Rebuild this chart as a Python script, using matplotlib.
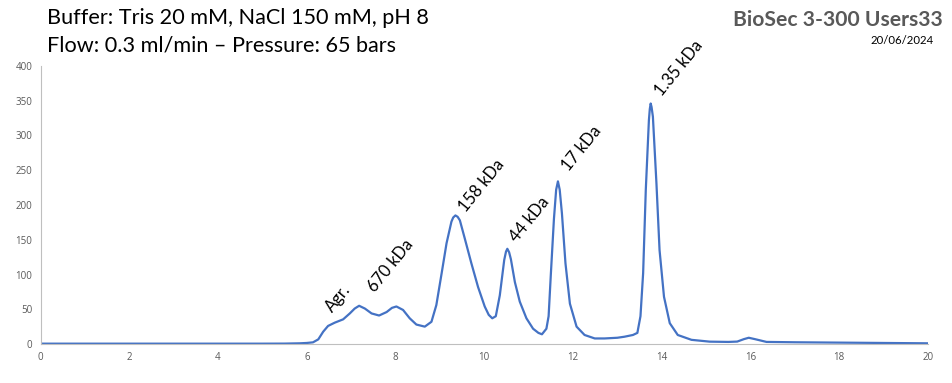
import matplotlib.pyplot as plt

# Chromatogram (elution volume in ml, absorbance)
volume = [0, 1, 2, 3, 4, 5, 5.5, 5.84, 6.0, 6.14, 6.26, 6.37, 6.48, 6.63, 6.82,
          6.97, 7.08, 7.18, 7.31, 7.46, 7.63, 7.80, 7.92, 8.02, 8.17, 8.32, 8.47,
          8.66, 8.81, 8.92, 9.04, 9.15, 9.26, 9.30, 9.35, 9.40, 9.45, 9.56, 9.71,
          9.86, 10.01, 10.10, 10.18, 10.26, 10.35, 10.45, 10.49, 10.52, 10.56,
          10.60, 10.69, 10.80, 10.95, 11.10, 11.22, 11.30, 11.40, 11.45, 11.50,
          11.57, 11.62, 11.66, 11.70, 11.75, 11.83, 11.93, 12.08, 12.26, 12.49,
          12.71, 13.0, 13.16, 13.35, 13.45, 13.52, 13.58, 13.64, 13.71, 13.73,
          13.75, 13.77, 13.80, 13.88, 13.95, 14.05, 14.18, 14.36, 14.67, 15.08,
          15.5, 15.7, 15.85, 15.96, 16.1, 16.36, 17, 18, 19, 20]
signal = [0.5, 0.5, 0.5, 0.5, 0.5, 0.5, 0.6, 1, 1.5, 2.4, 6.7, 17.7, 26, 30.7, 35.5,
          44, 51, 55, 51, 44, 41, 46, 52, 54, 49, 37, 28,
          25, 32, 56, 102, 145, 176, 182, 185, 183, 178, 152, 116,
          82, 54, 42, 37, 40, 70, 121, 133, 137, 132,
          122, 89, 61, 37, 22, 16, 14, 22, 40, 100,
          180, 222, 234, 222, 188, 116, 58, 25, 13, 8,
          8, 9, 10.5, 13, 16, 40, 102, 222, 322, 338,
          346, 341, 327, 231, 135, 68, 30, 13, 6, 3.4,
          3, 3.5, 7, 9, 7, 3, 2.5, 2, 1.5, 1]

# peak labels: text, x, y of text start
labels = ['Agr.', '670 kDa', '158 kDa', '44 kDa', '17 kDa', '1.35 kDa']
label_x = [6.58, 7.53, 9.59, 10.74, 11.91, 14.0]
label_y = [44, 74, 189, 146, 247, 356]

grey = '#595959'

fig = plt.figure(figsize=(9.53, 3.83), dpi=100)
ax = fig.add_axes([0.0425, 0.1018, 0.9313, 0.7259])
ax.plot(volume, signal, color='#4472C4', lw=1.6)

ax.set_xlim(0, 20)
ax.set_ylim(0, 400)
ax.set_xticks(range(0, 21, 2))
ax.set_yticks(range(0, 401, 50))
ax.tick_params(length=0, labelsize=7, colors=grey, pad=6)
for lab in ax.get_xticklabels() + ax.get_yticklabels():
    lab.set_family('Open Sans')
for s in ['top', 'right']:
    ax.spines[s].set_visible(False)
ax.spines['left'].set_color('#BFBFBF')
ax.spines['bottom'].set_color('#BFBFBF')
ax.spines['left'].set_linewidth(0.8)
ax.spines['bottom'].set_linewidth(0.8)

for t, x, y in zip(labels, label_x, label_y):
    ax.text(x, y, t, rotation=51, rotation_mode='anchor', ha='left', va='baseline',
            fontsize=12, family='Lato', color='black')

fig.text(47 / 953, 1 - 18 / 383, 'Buffer: Tris 20 mM, NaCl 150 mM, pH 8',
         fontsize=15.6, family='Lato', va='center', ha='left')
fig.text(47 / 953, 1 - 46 / 383, 'Flow: 0.3 ml/min \u2013 Pressure: 65 bars',
         fontsize=15.6, family='Lato', va='center', ha='left')
fig.text(943 / 953, 1 - 20 / 383, 'BioSec 3-300 Users33', fontsize=15.2,
         family='Lato', weight='bold', color=grey, va='center', ha='right')
fig.text(934 / 953, 1 - 41 / 383, '20/06/2024', fontsize=8.2,
         family='Lato', va='center', ha='right')

fig.savefig('out.png', dpi=100)
